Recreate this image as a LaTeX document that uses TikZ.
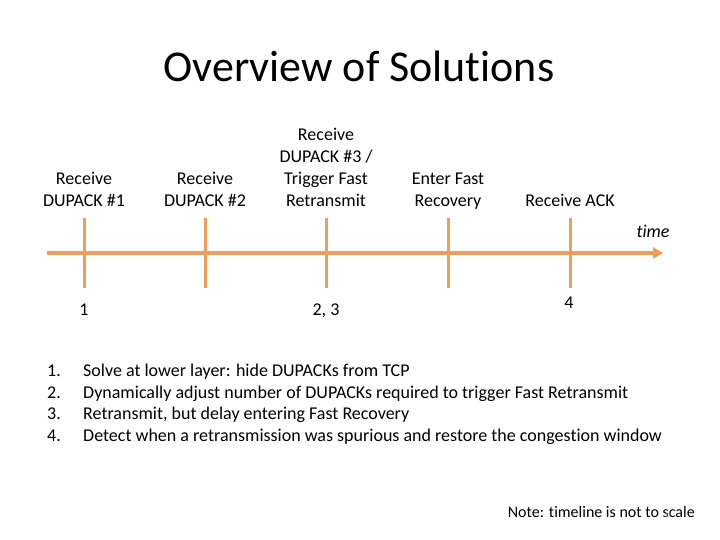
\documentclass[tikz,border=0pt]{standalone}
\usepackage{fontspec}
\setmainfont{Carlito}[Ligatures=CommonOff]
\usetikzlibrary{positioning,arrows.meta}
\definecolor{tlorange}{HTML}{EE9D5A}
\definecolor{grey5}{HTML}{A0A0A0}
\tikzset{eventlabel/.style={align=center,inner sep=0pt,font=\fontsize{18}{22}\selectfont}}
\tikzset{ticknum/.style={anchor=base,inner sep=0pt,font=\fontsize{18}{22}\selectfont}}
\tikzset{listitem/.style={anchor=base west,inner sep=0pt,font=\fontsize{18}{22}\selectfont}}
\tikzset{tickmark/.style={draw=tlorange,line width=3pt}}

\begin{document}
\begin{tikzpicture}[x=1pt,y=-1pt]
        \useasboundingbox (0,0) rectangle (720,540);
        \node[font=\fontsize{44}{53}\selectfont] (title) at (359,66) {Overview of Solutions};

        % timeline
        \coordinate (tstart) at (47,253);
        \coordinate (tend) at (663,253);
        \draw[draw=tlorange,line width=4pt,-{Triangle[length=10pt,width=11pt]}] (tstart) -- (tend);
        \node[inner sep=0pt,font=\fontsize{18}{22}\selectfont\itshape] (time) at (653,231) {time};

        \coordinate (t1) at (84,253);
        \coordinate (t2) at (205,253);
        \coordinate (t3) at (326,253);
        \coordinate (t4) at (448,253);
        \coordinate (t5) at (570,253);
        \draw[tickmark] ([yshift=35pt]t1) coordinate (t1top) -- ([yshift=-35pt]t1) coordinate (t1bot);
        \draw[tickmark] ([yshift=35pt]t2) coordinate (t2top) -- ([yshift=-35pt]t2) coordinate (t2bot);
        \draw[tickmark] ([yshift=35pt]t3) coordinate (t3top) -- ([yshift=-35pt]t3) coordinate (t3bot);
        \draw[tickmark] ([yshift=35pt]t4) coordinate (t4top) -- ([yshift=-35pt]t4) coordinate (t4bot);
        \draw[tickmark] ([yshift=35pt]t5) coordinate (t5top) -- ([yshift=-35pt]t5) coordinate (t5bot);

        % events above the ticks
        \node[eventlabel,above=5pt of t1top] (dup1) {Receive\\DUPACK \#1\strut};
        \node[eventlabel,above=5pt of t2top] (dup2) {Receive\\DUPACK \#2\strut};
        \node[eventlabel,above=5pt of t3top] (dup3) {Receive\\DUPACK \#3 /\\Trigger Fast\\Retransmit\strut};
        \node[eventlabel,above=5pt of t4top] (fastrec) {Enter Fast\\Recovery\strut};
        \node[eventlabel,above=5pt of t5top] (ack) {Receive ACK\strut};

        % solution numbers below the ticks
        \node[ticknum] (n1) at (84,315) {1};
        \node[ticknum] (n23) at (326,315) {2, 3};
        \node[ticknum] (n4) at (569,308) {4};

        % list of solutions
        \node[listitem] (num1) at (47,376) {1.};
        \node[listitem] (num2) at (47,398) {2.};
        \node[listitem] (num3) at (47,419) {3.};
        \node[listitem] (num4) at (47,441) {4.};
        \node[listitem] (item1) at (83,376) {Solve at lower layer: hide DUPACKs from TCP};
        \node[listitem] (item2) at (83,398) {Dynamically adjust number of DUPACKs required to trigger Fast Retransmit};
        \node[listitem] (item3) at (83,419) {Retransmit, but delay entering Fast Recovery};
        \node[listitem] (item4) at (83,441) {Detect when a retransmission was spurious and restore the congestion window};

        \node[anchor=base east,inner sep=0pt,font=\fontsize{16}{19}\selectfont] (note) at (695,517) {Note: timeline is not to scale};
        \node[inner sep=0pt,text=grey5,font=\fontsize{6}{7}\selectfont] (pagenum) at (668,516) {32};
    \end{tikzpicture}
\end{document}
